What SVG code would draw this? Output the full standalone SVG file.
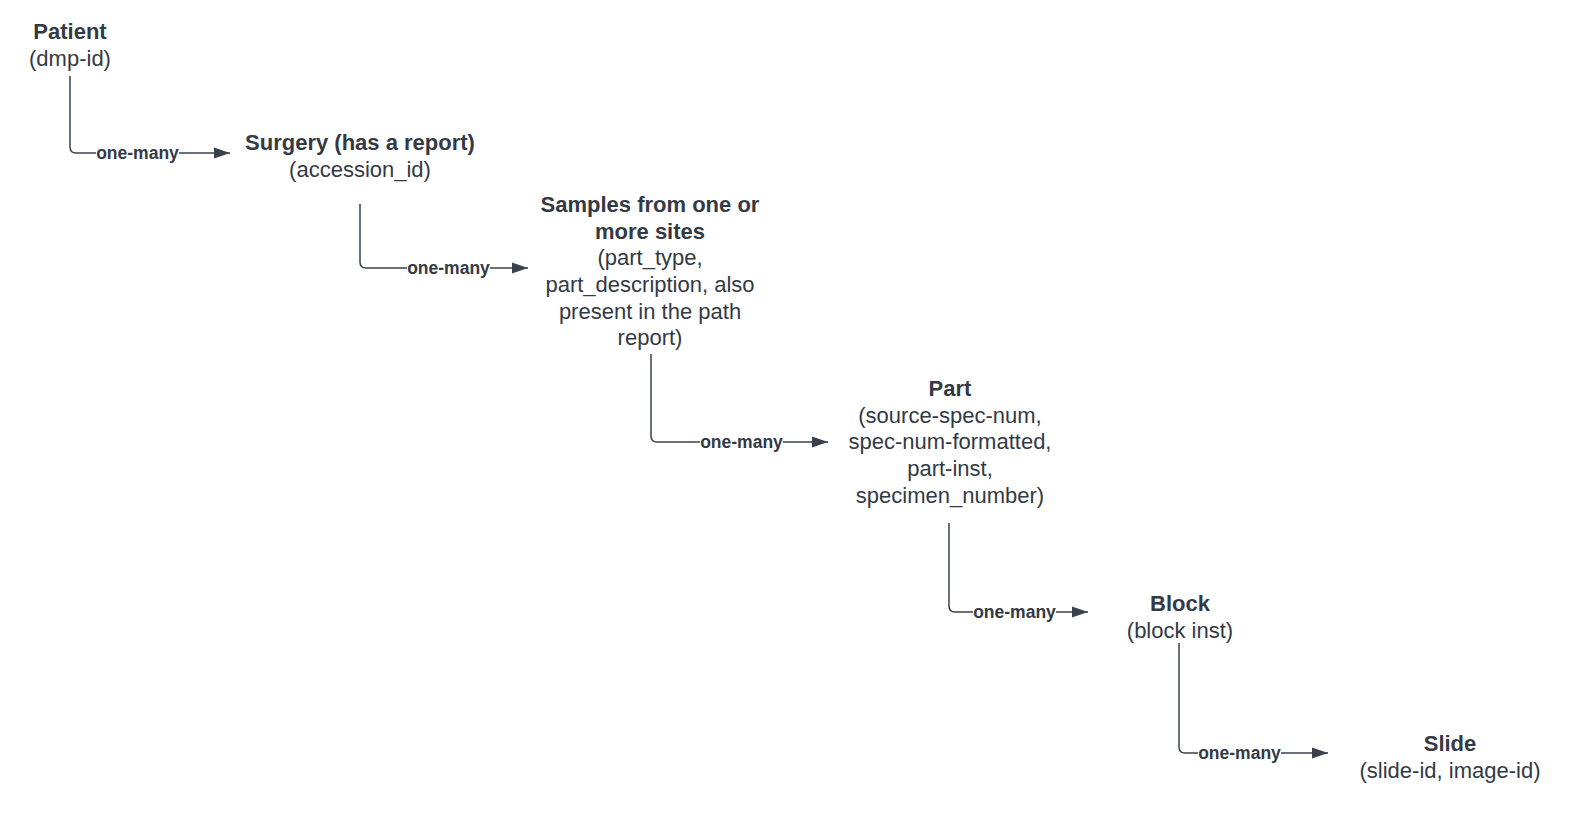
<svg xmlns="http://www.w3.org/2000/svg" width="1577" height="814" viewBox="0 0 1577 814">
<defs>
<style>
.t{font-family:"Liberation Sans",Arial,sans-serif;font-size:22px;fill:#333a45;text-anchor:middle}
.b{font-weight:bold}
.c{fill:none;stroke:#3a414a;stroke-width:1.5}
.lbl{font-family:"Liberation Sans",Arial,sans-serif;font-size:17.5px;font-weight:bold;fill:#333a45;text-anchor:middle}
.bg{fill:#ffffff}
</style>
<marker id="arr" markerWidth="17" markerHeight="12" refX="16" refY="6" orient="auto" markerUnits="userSpaceOnUse">
<path d="M0,0.5 L16,6 L0,11.5 Z" fill="#3a414a"/>
</marker>
</defs>
<rect width="1577" height="814" fill="#ffffff"/>
<g id="connectors">
<path class="c" d="M70,76 V147 Q70,153 76,153 H230" marker-end="url(#arr)"/>
<rect class="bg" x="96" y="143" width="83" height="20"/>
<text class="lbl" x="137.5" y="158.5">one-many</text>
<path class="c" d="M360,204 V262 Q360,268 366,268 H528" marker-end="url(#arr)"/>
<rect class="bg" x="407" y="258" width="83" height="20"/>
<text class="lbl" x="448.5" y="273.5">one-many</text>
<path class="c" d="M651,354 V436 Q651,442 657,442 H828" marker-end="url(#arr)"/>
<rect class="bg" x="700" y="432" width="83" height="20"/>
<text class="lbl" x="741.5" y="447.5">one-many</text>
<path class="c" d="M949,523 V606 Q949,612 955,612 H1088" marker-end="url(#arr)"/>
<rect class="bg" x="973" y="602" width="83" height="20"/>
<text class="lbl" x="1014.5" y="617.5">one-many</text>
<path class="c" d="M1179,643 V747 Q1179,753 1185,753 H1328" marker-end="url(#arr)"/>
<rect class="bg" x="1198" y="743" width="83" height="20"/>
<text class="lbl" x="1239.5" y="758.5">one-many</text>
</g>
<g id="patient">
<text class="t b" x="70" y="39">Patient</text>
<text class="t" x="70" y="66">(dmp-id)</text>
</g>
<g id="surgery">
<text class="t b" x="360" y="150">Surgery (has a report)</text>
<text class="t" x="360" y="177">(accession_id)</text>
</g>
<g id="samples">
<text class="t b" x="650" y="212">Samples from one or</text>
<text class="t b" x="650" y="239">more sites</text>
<text class="t" x="650" y="265">(part_type,</text>
<text class="t" x="650" y="292">part_description, also</text>
<text class="t" x="650" y="319">present in the path</text>
<text class="t" x="650" y="345">report)</text>
</g>
<g id="part">
<text class="t b" x="950" y="396">Part</text>
<text class="t" x="950" y="423">(source-spec-num,</text>
<text class="t" x="950" y="449">spec-num-formatted,</text>
<text class="t" x="950" y="476">part-inst,</text>
<text class="t" x="950" y="503">specimen_number)</text>
</g>
<g id="block">
<text class="t b" x="1180" y="611">Block</text>
<text class="t" x="1180" y="638">(block inst)</text>
</g>
<g id="slide">
<text class="t b" x="1450" y="751">Slide</text>
<text class="t" x="1450" y="778">(slide-id, image-id)</text>
</g>
</svg>
